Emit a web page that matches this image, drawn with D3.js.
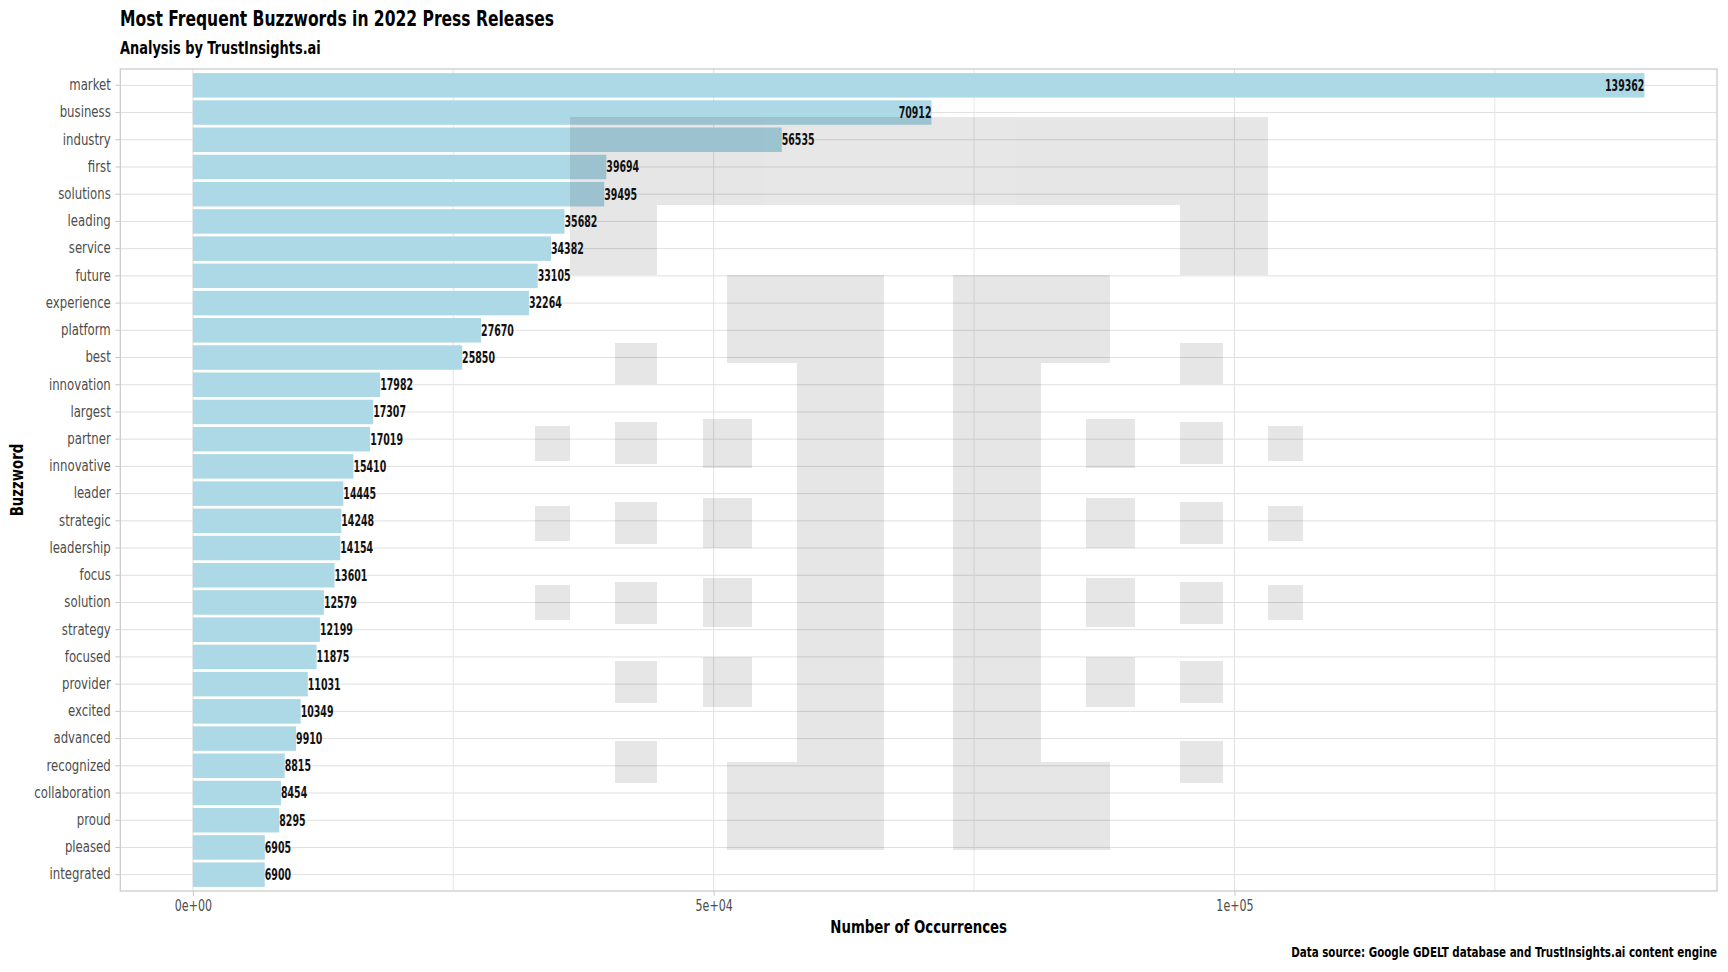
<!DOCTYPE html>
<html>
<head>
<meta charset="utf-8">
<script src="https://cdn.jsdelivr.net/npm/d3@7"></script>
<style>
  html, body { margin: 0; padding: 0; background: #fff; }
  svg { display: block; }
  text { font-family: "Liberation Sans Narrow", "DejaVu Sans Condensed", "Roboto", sans-serif; font-stretch: condensed; }
</style>
</head>
<body>
<svg id="chart" width="1728" height="972"></svg>
<script>
const categories = ["market","business","industry","first","solutions","leading","service","future","experience","platform","best","innovation","largest","partner","innovative","leader","strategic","leadership","focus","solution","strategy","focused","provider","excited","advanced","recognized","collaboration","proud","pleased","integrated"];
const values = [139362,70912,56535,39694,39495,35682,34382,33105,32264,27670,25850,17982,17307,17019,15410,14445,14248,14154,13601,12579,12199,11875,11031,10349,9910,8815,8454,8295,6905,6900];
const xTickValues = [0, 50000, 100000];
const xTickLabels = ["0e+00", "5e+04", "1e+05"];
const xMinorTicks = [25000, 75000, 125000];

const titleText = "Most Frequent Buzzwords in 2022 Press Releases";
const subtitleText = "Analysis by TrustInsights.ai";
const xTitle = "Number of Occurrences";
const yTitle = "Buzzword";
const captionText = "Data source: Google GDELT database and TrustInsights.ai content engine";

// watermark logo (decorative image), rectangles in page pixels [x0, y0, x1, y1]
const logoRects = [
  [570,117,1268,205],[570,205,657,275],[1180,205,1268,275],
  [727,275,884,363],[797,363,884,762],[727,762,884,850],
  [953,275,1110,363],[953,363,1041,762],[953,762,1110,850],
  [535,426,570,461],[535,506,570,541],[535,585,570,620],
  [615,343,657,384],[615,422,657,464],[615,502,657,544],[615,582,657,624],[615,661,657,703],[615,741,657,783],
  [703,419,752,468],[703,498,752,548],[703,578,752,627],[703,657,752,707],
  [1086,419,1135,468],[1086,498,1135,548],[1086,578,1135,627],[1086,657,1135,707],
  [1180,343,1223,384],[1180,422,1223,464],[1180,502,1223,544],[1180,582,1223,624],[1180,661,1223,703],[1180,741,1223,783],
  [1268,426,1303,461],[1268,506,1303,541],[1268,585,1303,620]
];

const panel = {left: 120.3, right: 1717, top: 69, bottom: 891};
const svg = d3.select("#chart");

const data = categories.map((c, i) => ({cat: c, val: values[i]}));
const maxV = d3.max(values);
const x = d3.scaleLinear().domain([-0.05 * maxV, maxV * 1.05]).range([panel.left, panel.right]);
const y = d3.scaleBand().domain(categories).range([panel.top, panel.bottom]).paddingInner(0.1).paddingOuter(0.15);
const midV = (x.domain()[0] + x.domain()[1]) / 2;

// helper: horizontally condensed text placed at (px, py)
function ctext(parent, px, py, k) {
  return parent.append("text").attr("transform", `translate(${px},${py}) scale(${k},1)`);
}

// grid
const g = svg.append("g");
g.selectAll("line.hgrid").data(categories).join("line")
  .attr("x1", panel.left).attr("x2", panel.right)
  .attr("y1", d => y(d) + y.bandwidth() / 2).attr("y2", d => y(d) + y.bandwidth() / 2)
  .attr("stroke", "#e0e0e0").attr("stroke-width", 1);
g.selectAll("line.vminor").data(xMinorTicks).join("line")
  .attr("x1", d => x(d)).attr("x2", d => x(d))
  .attr("y1", panel.top).attr("y2", panel.bottom)
  .attr("stroke", "#e6e6e6").attr("stroke-width", 1);
g.selectAll("line.vmajor").data(xTickValues).join("line")
  .attr("x1", d => x(d)).attr("x2", d => x(d))
  .attr("y1", panel.top).attr("y2", panel.bottom)
  .attr("stroke", "#e0e0e0").attr("stroke-width", 1);

// bars
svg.append("g").selectAll("rect").data(data).join("rect")
  .attr("x", x(0)).attr("y", d => y(d.cat))
  .attr("width", d => x(d.val) - x(0)).attr("height", y.bandwidth())
  .attr("fill", "#ADD8E6");

// watermark
svg.append("g").attr("opacity", 0.095).selectAll("rect").data(logoRects).join("rect")
  .attr("x", d => d[0]).attr("y", d => d[1])
  .attr("width", d => d[2] - d[0]).attr("height", d => d[3] - d[1])
  .attr("fill", "#000");

// value labels (hjust inward)
const lbl = svg.append("g");
data.forEach(d => {
  ctext(lbl, x(d.val), y(d.cat) + y.bandwidth() / 2, 0.70)
    .attr("dy", "0.36em")
    .attr("text-anchor", d.val > midV ? "end" : "start")
    .attr("font-size", 15).attr("font-weight", "bold").attr("fill", "#111")
    .text(d.val);
});

// panel border
svg.append("rect").attr("x", panel.left).attr("y", panel.top)
  .attr("width", panel.right - panel.left).attr("height", panel.bottom - panel.top)
  .attr("fill", "none").attr("stroke", "#c8c8c8").attr("stroke-width", 1.2);

// axes
const yK = 0.87;
const yAxis = svg.append("g").attr("transform", `translate(${panel.left},0)`)
  .call(d3.axisLeft(y).tickSize(5).tickPadding(4));
yAxis.attr("font-family", null);
yAxis.select(".domain").remove();
yAxis.selectAll("line").attr("stroke", "#c8c8c8");
yAxis.selectAll("text").attr("font-size", 15).attr("fill", "#4d4d4d")
  .attr("x", -9.5 / yK).attr("transform", `scale(${yK},1)`);

const xK = 0.82;
const xAxis = svg.append("g").attr("transform", `translate(0,${panel.bottom})`)
  .call(d3.axisBottom(x).tickValues(xTickValues).tickFormat((d, i) => xTickLabels[i]).tickSize(5).tickPadding(4));
xAxis.attr("font-family", null);
xAxis.select(".domain").remove();
xAxis.selectAll("line").attr("stroke", "#c8c8c8");
xAxis.selectAll("text").attr("font-size", 15).attr("fill", "#4d4d4d").attr("transform", `scale(${xK},1)`);

// titles
ctext(svg, 120, 26, 0.786).attr("font-size", 22).attr("font-weight", "bold").attr("fill", "#000").text(titleText);
ctext(svg, 120, 54, 0.80).attr("font-size", 18).attr("font-weight", "bold").attr("fill", "#000").text(subtitleText);
ctext(svg, (panel.left + panel.right) / 2, 933, 0.87).attr("text-anchor", "middle")
  .attr("font-size", 17).attr("font-weight", "bold").attr("fill", "#000").text(xTitle);
svg.append("text").attr("transform", `translate(23,${(panel.top + panel.bottom) / 2}) rotate(-90) scale(0.87,1)`).attr("text-anchor", "middle")
  .attr("font-size", 17).attr("font-weight", "bold").attr("fill", "#000").text(yTitle);
ctext(svg, 1717, 957, 0.82).attr("text-anchor", "end")
  .attr("font-size", 14).attr("font-weight", "bold").attr("fill", "#000").text(captionText);
</script>
</body>
</html>
